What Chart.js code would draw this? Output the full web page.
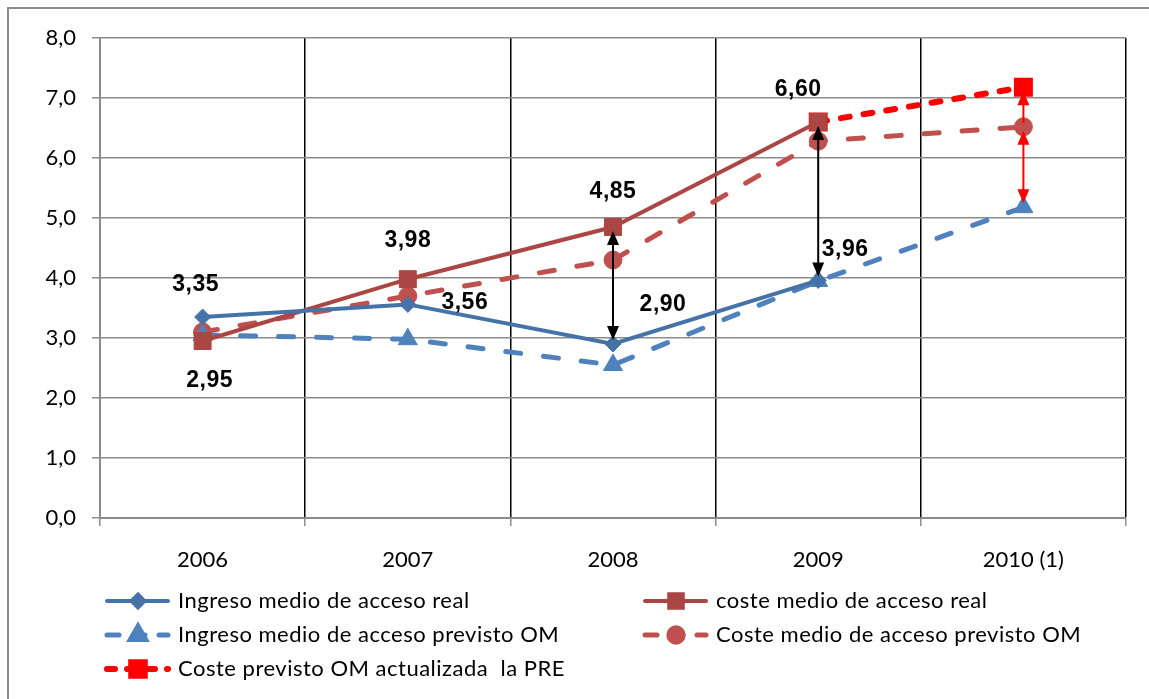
<!DOCTYPE html>
<html>
<head>
<meta charset="utf-8">
<script src="https://cdn.jsdelivr.net/npm/chart.js@4.4.1/dist/chart.umd.min.js"></script>
<style>
  html, body { margin: 0; padding: 0; background: #fff; overflow: hidden; }
  #frame { position: absolute; left: 7px; top: 7px; width: 1400px; height: 900px;
           border-left: 2px solid #8c8c8c; border-top: 2px solid #8c8c8c; }
  #wrap { position: absolute; left: 0; top: 0; width: 1149px; height: 699px; }
</style>
</head>
<body>
<div id="frame"></div>
<div id="wrap"><canvas id="chart"></canvas></div>
<script>
// Data
const years = ['2006', '2007', '2008', '2009', '2010 (1)'];
const ingresoReal = [3.35, 3.56, 2.90, 3.96, null];
const costeReal = [2.95, 3.98, 4.85, 6.60, null];
const ingresoPrevisto = [3.05, 2.98, 2.55, 3.95, 5.18];
const costePrevisto = [3.10, 3.70, 4.30, 6.28, 6.52];
const costePRE = [null, null, null, 6.60, 7.18];

// arrows between series (year, from value, to value, head at start too?)
const arrowYears = ['2008', '2009', '2010 (1)', '2010 (1)'];
const arrowFrom = [4.85, 6.60, 6.52, 6.52];
const arrowTo = [2.90, 3.96, 7.18, 5.18];
const arrowBoth = [true, true, false, true];
const arrowColors = ['#000', '#000', '#ff0000', '#ff0000'];

const FONT = 'Lato, "Open Sans", sans-serif';

function fmt(v, d) { return v.toFixed(d).replace('.', ','); }

// bold value labels for the two "real" series
const labelOffsets = {
  0: [[-7, -32], [57, -2], [50, -39], [27, -31]],
  1: [[7, 40], [0, -39], [0, -35], [-20, -32]]
};
const valueLabels = {
  id: 'valueLabels',
  afterDatasetsDraw(chart) {
    const ctx = chart.ctx;
    ctx.save();
    ctx.font = 'bold 23px "Liberation Sans", Arial, sans-serif';
    ctx.letterSpacing = '0.5px';
    ctx.fillStyle = '#000';
    ctx.textAlign = 'center';
    ctx.textBaseline = 'middle';
    Object.keys(labelOffsets).forEach(di => {
      const ds = chart.data.datasets[di];
      const meta = chart.getDatasetMeta(di);
      labelOffsets[di].forEach((off, i) => {
        if (ds.data[i] == null) return;
        const p = meta.data[i];
        ctx.fillText(fmt(ds.data[i], 2), p.x + off[0], p.y + off[1]);
      });
    });
    ctx.restore();
  }
};

function arrowHead(ctx, x, tipY, dir) {
  // dir = -1 points up, 1 points down
  ctx.beginPath();
  ctx.moveTo(x, tipY);
  ctx.lineTo(x - 6, tipY - dir * 14);
  ctx.lineTo(x + 6, tipY - dir * 14);
  ctx.closePath();
  ctx.fill();
}

const arrows = {
  id: 'arrows',
  afterDatasetsDraw(chart) {
    const ctx = chart.ctx;
    const xs = chart.scales.x, ys = chart.scales.y;
    ctx.save();
    arrowYears.forEach((yr, i) => {
      const x = xs.getPixelForValue(years.indexOf(yr));
      let y1 = ys.getPixelForValue(arrowFrom[i]);
      let y2 = ys.getPixelForValue(arrowTo[i]);
      const dir = y2 > y1 ? 1 : -1;
      y1 += dir * 4; y2 -= dir * 4;
      ctx.strokeStyle = arrowColors[i];
      ctx.fillStyle = arrowColors[i];
      ctx.lineWidth = 2;
      ctx.beginPath();
      ctx.moveTo(x, y1 + (arrowBoth[i] ? dir * 10 : 0));
      ctx.lineTo(x, y2 - dir * 10);
      ctx.stroke();
      arrowHead(ctx, x, y2, dir);
      if (arrowBoth[i]) arrowHead(ctx, x, y1, -dir);
    });
    ctx.restore();
  }
};

// legend in two columns, drawn by hand
const legendSlots = [[105, 601], [643, 601], [105, 635], [643, 635], [105, 669]];
const legendOrder = [0, 1, 2, 3, 4];
const customLegend = {
  id: 'customLegend',
  afterDraw(chart) {
    const ctx = chart.ctx;
    ctx.save();
    legendOrder.forEach((di, k) => {
      const ds = chart.data.datasets[di];
      const [x, y] = legendSlots[k];
      ctx.strokeStyle = ds.borderColor;
      ctx.lineWidth = ds.borderWidth;
      ctx.lineCap = 'round';
      ctx.setLineDash(ds.legendDash || []);
      ctx.beginPath();
      ctx.moveTo(x + 2, y);
      ctx.lineTo(x + 63, y);
      ctx.stroke();
      ctx.setLineDash([]);
      ctx.fillStyle = ds.legendFill || ds.borderColor;
      Chart.helpers.drawPoint(ctx, {
        pointStyle: ds.pointStyle, radius: ds.pointRadius * 0.8, rotation: 0, borderWidth: 1
      }, x + 33, y);
      ctx.fillStyle = '#000';
      ctx.font = '22px ' + FONT;
      ctx.letterSpacing = '0.5px';
      ctx.textAlign = 'left';
      ctx.textBaseline = 'middle';
      ctx.fillText(ds.label, x + 73, y);
    });
    ctx.restore();
  }
};

new Chart(document.getElementById('chart'), {
  type: 'line',
  data: {
    labels: years,
    datasets: [
      {
        label: 'Ingreso medio de acceso real',
        data: ingresoReal,
        borderColor: '#4572A7', backgroundColor: '#4572A7', borderWidth: 4,
        pointStyle: 'rectRot', pointRadius: 8, pointBorderWidth: 1
      },
      {
        label: 'coste medio de acceso real',
        data: costeReal,
        borderColor: '#AA4643', backgroundColor: '#AA4643', borderWidth: 4,
        pointStyle: 'rect', pointRadius: 12, pointBorderWidth: 1
      },
      {
        label: 'Ingreso medio de acceso previsto OM',
        data: ingresoPrevisto,
        borderColor: '#4F81BD', backgroundColor: '#4F81BD', borderWidth: 5,
        borderDash: [15, 23], borderCapStyle: 'round', legendDash: [12, 14],
        pointStyle: 'triangle', pointRadius: 11, pointBorderWidth: 1
      },
      {
        label: 'Coste medio de acceso previsto OM',
        data: costePrevisto,
        borderColor: '#C0504D', backgroundColor: '#C0504D', borderWidth: 5,
        borderDash: [15, 23], borderCapStyle: 'round', legendDash: [12, 14],
        pointStyle: 'circle', pointRadius: 9, pointBorderWidth: 1
      },
      {
        label: 'Coste previsto OM actualizada  la PRE',
        data: costePRE,
        borderColor: '#FF0000', backgroundColor: '#FF0000', borderWidth: 6,
        borderDash: [9, 14], borderCapStyle: 'round', legendDash: [8, 12],
        pointStyle: 'rect', pointRadius: 12, pointBorderWidth: 2,
        pointBackgroundColor: ['#FF0000', '#FF0000', '#FF0000', '#9A4A12', '#FF0000'],
        pointBorderColor: '#FF0000', legendFill: '#FF0000'
      }
    ]
  },
  options: {
    responsive: true,
    maintainAspectRatio: false,
    animation: false,
    spanGaps: false,
    layout: { padding: { top: 38, right: 23, bottom: 0, left: 0 } },
    plugins: {
      legend: { display: false },
      tooltip: { enabled: false }
    },
    scales: {
      x: {
        offset: true,
        afterFit(s) { s.height = 181; },
        grid: {
          offset: true,
          color: c => (c.index === 0 ? '#8c8c8c' : '#000'),
          lineWidth: 1.5,
          tickColor: '#8c8c8c',
          tickLength: 8,
          drawTicks: true
        },
        border: { color: '#8c8c8c', width: 2 },
        ticks: { color: '#000', font: { family: FONT, size: 22 }, padding: 21 }
      },
      y: {
        min: 0, max: 8,
        afterFit(s) { s.width = 100; },
        grid: {
          color: '#8c8c8c', lineWidth: 1.5,
          borderDash: [8, 5], tickBorderDash: [],
          tickLength: 8, tickColor: '#8c8c8c'
        },
        border: { color: '#8c8c8c', width: 2 },
        ticks: {
          stepSize: 1, color: '#000', padding: 16,
          font: { family: FONT, size: 22 },
          callback: v => fmt(v, 1)
        }
      }
    }
  },
  plugins: [arrows, valueLabels, customLegend]
});
</script>
</body>
</html>
